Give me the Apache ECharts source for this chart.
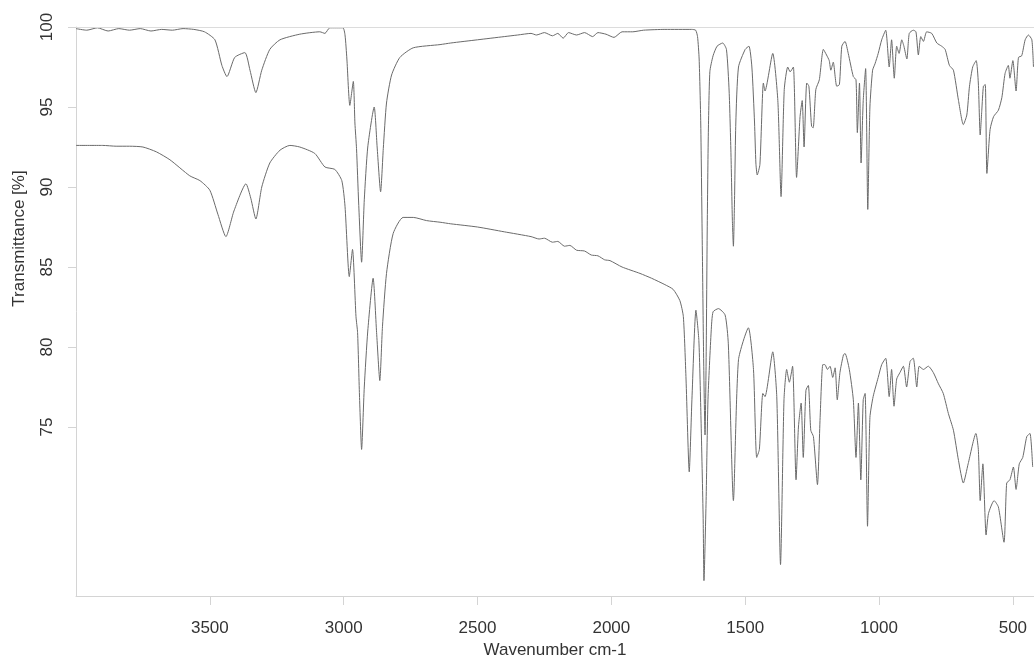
<!DOCTYPE html>
<html>
<head>
<meta charset="utf-8">
<title>IR spectrum</title>
<script src="https://cdn.jsdelivr.net/npm/echarts@6/dist/echarts.min.js"></script>
<style>
  html, body { margin: 0; padding: 0; background: #fff; }
  #spectrum { width: 1034px; height: 662px; }
</style>
</head>
<body>
<div id="spectrum"></div>
<script>
// x ticks and y ticks as printed on the spectrum
var wavenumberTicks = [3500, 3000, 2500, 2000, 1500, 1000, 500]
var transmittanceTicks = [75, 80, 85, 90, 95, 100]

// upper trace: [wavenumber cm-1, transmittance %]
var upperSpectrum = [
  [4000, 99.9], [3960, 99.8], [3920, 99.95], [3880, 99.75], [3840, 99.9], [3800, 99.8],
  [3760, 99.9], [3720, 99.75], [3680, 99.85], [3640, 99.8], [3600, 99.9], [3560, 99.85],
  [3520, 99.7], [3481, 99.2], [3455, 97.6], [3436, 96.9], [3407, 98.1], [3369, 98.4],
  [3350, 97.3], [3328, 95.9], [3306, 97.3], [3276, 98.6], [3238, 99.2], [3164, 99.55],
  [3089, 99.7], [3070, 99.6], [3052, 99.95], [3003, 99.95], [2995, 99.5], [2988, 98],
  [2977, 95.1], [2964, 96.6], [2958, 94], [2952, 92.4], [2944, 89], [2933, 85.3],
  [2923, 89.2], [2910, 92.5], [2886, 95.0], [2875, 92.5], [2862, 89.7], [2852, 92.4],
  [2840, 95.25], [2821, 97.0], [2790, 98.1], [2740, 98.7], [2640, 98.9], [2600, 99.0],
  [2500, 99.2], [2400, 99.4], [2350, 99.5], [2300, 99.6], [2280, 99.5], [2250, 99.65],
  [2220, 99.45], [2200, 99.6], [2180, 99.3], [2160, 99.65], [2130, 99.5], [2100, 99.65],
  [2070, 99.4], [2050, 99.65], [2020, 99.55], [1990, 99.35], [1960, 99.7], [1920, 99.7],
  [1880, 99.8], [1800, 99.85], [1700, 99.85], [1685, 99.8], [1678, 99.4], [1672, 98],
  [1666, 94], [1660, 86], [1655, 79], [1650, 74.5], [1646, 79], [1642, 87],
  [1638, 93], [1632, 97.2], [1620, 98.2], [1605, 98.8], [1584, 99.0], [1570, 98.6],
  [1560, 96], [1553, 92], [1548, 88], [1544, 86.3], [1540, 89], [1535, 94],
  [1525, 97.5], [1500, 98.6], [1486, 98.8], [1475, 97.5], [1465, 94], [1460, 91.5],
  [1455, 90.75], [1445, 91.4], [1432, 96.5], [1426, 96], [1397, 98.35], [1378, 95.4],
  [1366, 89.4], [1354, 96.1], [1341, 97.5], [1332, 97.2], [1320, 97.5], [1308, 90.6],
  [1295, 94.4], [1287, 95.4], [1280, 92.5], [1270, 96.5], [1262, 96.3], [1252, 93.8],
  [1246, 93.7], [1236, 96.1], [1223, 96.7], [1208, 98.6], [1196, 98.25], [1186, 97.9],
  [1180, 97.3], [1171, 97.8], [1158, 96.3], [1148, 96.4], [1139, 98.8], [1127, 99.1],
  [1115, 98.35], [1096, 96.9], [1086, 96.7], [1081, 93.4], [1073, 96.5], [1067, 91.5],
  [1059, 95.4], [1050, 97.4], [1042, 88.6], [1034, 95], [1024, 97.3], [1015, 97.7],
  [1003, 98.35], [990, 99.2], [975, 99.8], [962, 97.5], [953, 99.2], [943, 96.8],
  [934, 98.8], [925, 98.35], [915, 99.2], [907, 98.8], [896, 98.0], [887, 99.6],
  [872, 99.8], [862, 99.7], [853, 98.25], [844, 99.4], [834, 99.1], [822, 99.7],
  [803, 99.6], [784, 99.0], [766, 98.8], [753, 98.6], [737, 97.6], [722, 97.3],
  [703, 95.4], [685, 93.9], [672, 94.5], [662, 96.3], [650, 97.5], [637, 97.9],
  [629, 96.5], [622, 93.25], [616, 94.8], [610, 96.3], [603, 96.4], [597, 90.85],
  [585, 93.6], [572, 94.4], [554, 94.8], [541, 95.6], [529, 97.1], [517, 97.6],
  [511, 96.8], [500, 97.9], [488, 96.0], [479, 98.1], [467, 98.2], [454, 99.2],
  [442, 99.5], [429, 99.2], [423, 97.5]
]

// lower trace: [wavenumber cm-1, transmittance %]
var lowerSpectrum = [
  [4000, 92.6], [3900, 92.6], [3850, 92.55], [3800, 92.55], [3750, 92.5], [3700, 92.2],
  [3649, 91.7], [3575, 90.7], [3537, 90.4], [3500, 89.8], [3470, 88.3], [3440, 86.9],
  [3410, 88.5], [3365, 90.2], [3347, 89.3], [3328, 88.0], [3306, 90], [3276, 91.5],
  [3238, 92.3], [3201, 92.6], [3164, 92.5], [3108, 92.1], [3070, 91.25], [3033, 91.1],
  [3007, 90.4], [2995, 88.8], [2979, 84.4], [2967, 86.1], [2954, 81.9], [2948, 80.9],
  [2941, 77], [2933, 73.6], [2923, 77.5], [2910, 81], [2890, 84.3], [2877, 80.9],
  [2865, 77.9], [2855, 81.3], [2840, 84.6], [2815, 87.1], [2778, 88.1], [2740, 88.1],
  [2690, 87.9], [2640, 87.8], [2600, 87.7], [2500, 87.5], [2400, 87.2], [2300, 86.9],
  [2270, 86.75], [2250, 86.8], [2220, 86.55], [2200, 86.6], [2175, 86.3], [2155, 86.35],
  [2130, 86.05], [2100, 86.0], [2075, 85.75], [2050, 85.7], [2025, 85.45], [2005, 85.4],
  [1960, 85.0], [1893, 84.6], [1850, 84.3], [1800, 83.9], [1769, 83.6], [1744, 82.9],
  [1731, 81.9], [1721, 78], [1709, 72.2], [1699, 76.7], [1684, 82.3], [1673, 80.4],
  [1665, 75.5], [1657, 69.3], [1654, 65.4], [1646, 70.4], [1639, 76.7], [1627, 81.0],
  [1620, 82.2], [1600, 82.4], [1575, 82.0], [1563, 80.2], [1544, 70.4], [1525, 79.2],
  [1488, 81.2], [1469, 78.6], [1457, 73.1], [1447, 73.6], [1434, 77.1], [1426, 76.9],
  [1397, 79.7], [1382, 76.9], [1368, 66.4], [1355, 76.7], [1345, 78.6], [1335, 77.8],
  [1323, 78.8], [1310, 71.7], [1301, 75.0], [1291, 76.5], [1283, 73.1], [1273, 77.3],
  [1264, 77.6], [1255, 74.8], [1245, 74.4], [1230, 71.4], [1220, 75.6], [1210, 78.9],
  [1202, 78.9], [1193, 78.6], [1183, 78.8], [1173, 78.1], [1164, 78.7], [1156, 76.7],
  [1146, 78.4], [1133, 79.5], [1127, 79.6], [1111, 78.6], [1096, 76.7], [1086, 73.1],
  [1077, 76.5], [1068, 71.7], [1059, 76.7], [1052, 77.1], [1043, 68.8], [1034, 75.6],
  [1022, 76.9], [1003, 78.1], [990, 78.9], [975, 79.3], [962, 76.9], [953, 78.6],
  [944, 76.3], [934, 78.0], [922, 78.4], [909, 78.8], [897, 77.5], [884, 79.1],
  [872, 79.3], [859, 77.5], [850, 78.8], [834, 78.6], [816, 78.8], [797, 78.4],
  [778, 77.7], [760, 77.1], [741, 75.85], [722, 74.8], [703, 72.9], [685, 71.5],
  [667, 72.7], [638, 74.6], [629, 73.6], [622, 70.4], [612, 72.7], [600, 68.25],
  [591, 69.6], [570, 70.4], [554, 70.0], [533, 67.8], [523, 71.5], [511, 71.7],
  [498, 72.5], [488, 71.1], [476, 72.7], [463, 73.1], [448, 74.4], [436, 74.6],
  [426, 72.5]
]

var myChart = echarts.init(document.getElementById('spectrum'))

var font = 'Liberation Sans, Arial, sans-serif'
var lineStyle = { color: '#6a6a6a', width: 1 }
var plain = function (v) { return String(v) }

myChart.setOption({
  animation: false,
  grid: { left: 76, right: 0, top: 27, bottom: 66, outerBoundsMode: 'none' },
  xAxis: {
    type: 'value',
    inverse: true,
    min: 421,
    max: 4000,
    name: 'Wavenumber cm-1',
    nameLocation: 'middle',
    nameGap: 46,
    nameTextStyle: { fontFamily: font, fontSize: 17, color: '#333' },
    axisLine: { lineStyle: { color: '#d4d4d4' } },
    axisTick: { show: true, length: 9, lineStyle: { color: '#d4d4d4' }, customValues: wavenumberTicks },
    axisLabel: { fontFamily: font, fontSize: 17, color: '#333', margin: 24, customValues: wavenumberTicks, formatter: plain },
    splitLine: { show: false }
  },
  yAxis: {
    type: 'value',
    min: 64.44,
    max: 100,
    name: 'Transmittance [%]',
    nameLocation: 'middle',
    nameGap: 48,
    nameRotate: 90,
    nameTextStyle: { fontFamily: font, fontSize: 17, color: '#333', padding: [0, 0, 0, 146] },
    axisLine: { show: true, lineStyle: { color: '#d4d4d4' } },
    axisTick: { show: true, length: 8, lineStyle: { color: '#d4d4d4' }, customValues: transmittanceTicks },
    axisLabel: { fontFamily: font, fontSize: 17, color: '#333', rotate: 90, margin: 20, customValues: transmittanceTicks, formatter: plain },
    splitLine: { show: false }
  },
  series: [
    {
      name: 'upper',
      type: 'line',
      data: upperSpectrum,
      showSymbol: false,
      smooth: 0.2,
      lineStyle: lineStyle,
      markLine: {
        silent: true,
        symbol: 'none',
        label: { show: false },
        lineStyle: { color: '#dcdcdc', type: 'solid', width: 1 },
        data: [{ yAxis: 100 }]
      }
    },
    {
      name: 'lower',
      type: 'line',
      data: lowerSpectrum,
      showSymbol: false,
      smooth: 0.2,
      lineStyle: lineStyle
    }
  ]
})
</script>
</body>
</html>
